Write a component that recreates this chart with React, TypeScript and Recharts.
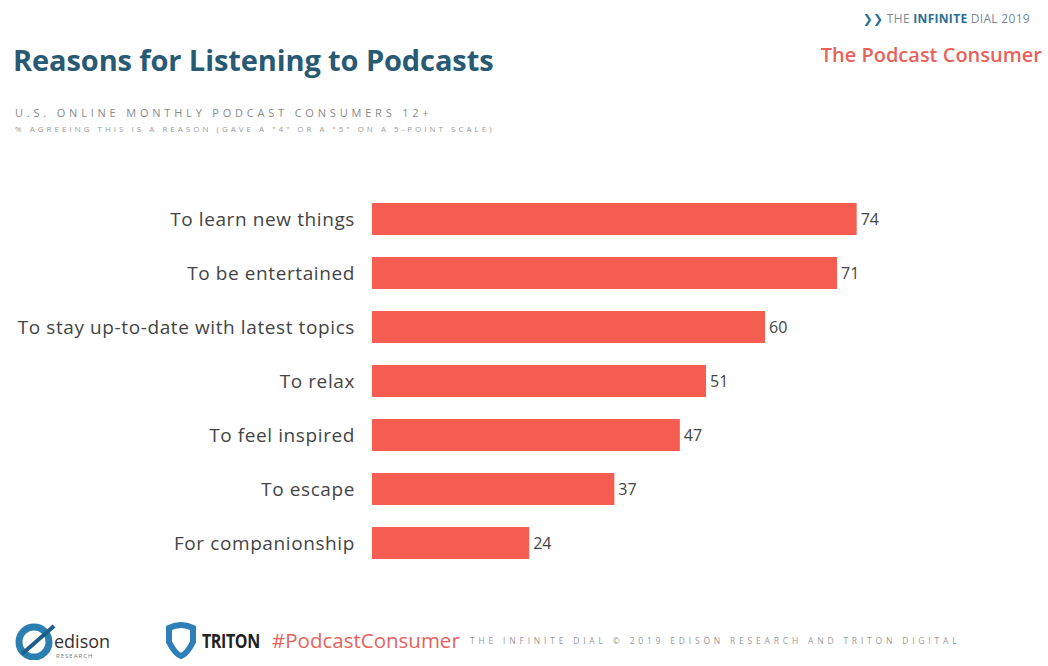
import { Bar, BarChart, LabelList, XAxis, YAxis } from "recharts"

// Share agreeing each item is a reason to listen (%)
const reasons = [
  "To learn new things",
  "To be entertained",
  "To stay up-to-date with latest topics",
  "To relax",
  "To feel inspired",
  "To escape",
  "For companionship",
]
const shares = [74, 71, 60, 51, 47, 37, 24]

const data = reasons.map((name, i) => ({ name, value: shares[i] }))

const font = "'Open Sans', 'DejaVu Sans', sans-serif"

export default function App() {
  return (
    <div
      style={{
        position: "absolute",
        left: 0,
        top: 0,
        width: 1048,
        height: 666,
        background: "#fff",
        fontFamily: font,
        overflow: "hidden",
      }}
    >
      <div style={{ position: "absolute", left: 13, top: 40, fontSize: 29, fontWeight: 700, color: "#285a74", letterSpacing: -0.1 }}>
        Reasons for Listening to Podcasts
      </div>
      <div style={{ position: "absolute", left: 15, top: 105, fontSize: 11, color: "#8a8a8a", letterSpacing: 3.8 }}>
        U.S. ONLINE MONTHLY PODCAST CONSUMERS 12+
      </div>
      <div style={{ position: "absolute", left: 15, top: 123, fontSize: 8, color: "#9a9a9a", letterSpacing: 3 }}>
        % AGREEING THIS IS A REASON (GAVE A "4" OR A "5" ON A 5-POINT SCALE)
      </div>

      <div style={{ position: "absolute", right: 18, top: 10, fontSize: 12, color: "#7a8a94", letterSpacing: 0.3 }}>
        <span style={{ color: "#2a6f97", fontWeight: 700 }}>❯❯ </span>
        THE <b style={{ color: "#2a6f97" }}>INFINITE</b> DIAL 2019
      </div>
      <div style={{ position: "absolute", right: 6, top: 41, fontSize: 20, fontWeight: 600, color: "#e8625a" }}>
        The Podcast Consumer
      </div>

      <div style={{ position: "absolute", left: 0, top: 0 }}>
        <BarChart
          width={1048}
          height={600}
          data={data}
          layout="vertical"
          margin={{ top: 192, right: 21, bottom: 30, left: 0 }}
          barCategoryGap={22}
        >
          <XAxis type="number" domain={[0, 100]} hide />
          <YAxis
            type="category"
            dataKey="name"
            width={372}
            axisLine={false}
            tickLine={false}
            tickSize={0}
            tickMargin={17}
            tick={{ fill: "#444", fontSize: 19, letterSpacing: 0.6, fontFamily: font }}
          />
          <Bar dataKey="value" fill="#f45d4f" barSize={32} isAnimationActive={false}>
            <LabelList
              dataKey="value"
              position="right"
              offset={4}
              style={{ fill: "#444", fontSize: 16, fontFamily: font }}
            />
          </Bar>
        </BarChart>
      </div>

      {/* footer */}
      <svg style={{ position: "absolute", left: 14, top: 620 }} width={46} height={40}>
        <ellipse cx={20} cy={22} rx={15} ry={15} fill="none" stroke="#2a7fb0" strokeWidth={7} />
        <path d="M8 34 L40 6" stroke="#1d5f8a" strokeWidth={4} />
      </svg>
      <div style={{ position: "absolute", left: 54, top: 629, fontSize: 18, color: "#333" }}>edison</div>
      <div style={{ position: "absolute", left: 56, top: 652, fontSize: 6, color: "#777", letterSpacing: 1 }}>RESEARCH</div>

      <svg style={{ position: "absolute", left: 163, top: 620 }} width={36} height={40}>
        <path d="M6 8 Q18 2 30 8 L30 22 Q24 34 18 36 Q12 34 6 22 Z" fill="none" stroke="#2e7fb8" strokeWidth={6} />
      </svg>
      <div style={{ position: "absolute", left: 202, top: 627, fontSize: 20, fontWeight: 700, color: "#222", letterSpacing: -0.5, transform: "scaleX(0.8)", transformOrigin: "left" }}>
        TRITON
      </div>

      <div style={{ position: "absolute", left: 272, top: 626, fontSize: 20.5, color: "#e8625a" }}>#PodcastConsumer</div>
      <div style={{ position: "absolute", left: 470, top: 635, fontSize: 8.5, color: "#999", letterSpacing: 3.8 }}>
        THE INFINITE DIAL © 2019 EDISON RESEARCH AND TRITON DIGITAL
      </div>
    </div>
  )
}
